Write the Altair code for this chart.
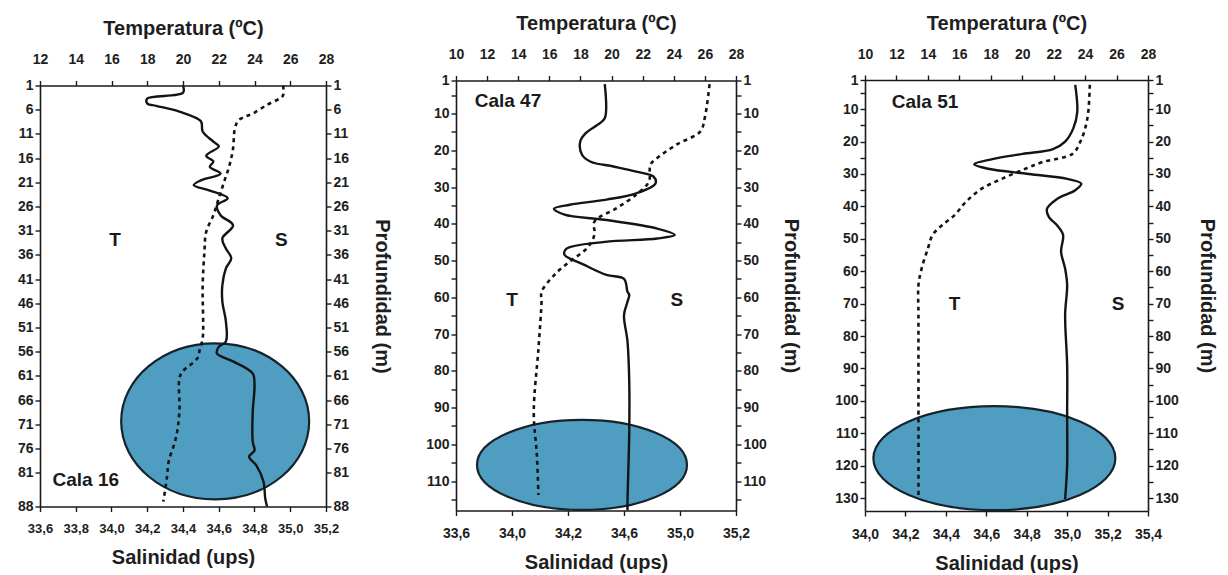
import json
import altair as alt
import pandas as pd

FONT = "Liberation Sans"

# ---------------- Cala 16 ----------------
c16_sal_depth = [1, 2.5, 3.7, 4.7, 5.2, 6.4, 8.4, 10.5, 12.6, 13.6, 15.5, 16.7, 17.8, 19.2, 20.6, 21.6,
                 22.7, 24.3, 25.8, 27.8, 29.9, 32.6, 34.7, 36.7, 38.8, 42.3, 45.6, 49.8, 53.9, 55, 56.4,
                 58, 60.5, 63, 68.4, 74.6, 76.4, 77.7, 79.5, 82.8, 86.3, 88]
c16_sal = [34.40, 34.40, 34.20, 34.20, 34.25, 34.38, 34.50, 34.51, 34.57, 34.60, 34.53, 34.57, 34.55,
           34.61, 34.50, 34.46, 34.55, 34.65, 34.59, 34.61, 34.68, 34.62, 34.64, 34.67, 34.64, 34.62,
           34.62, 34.64, 34.64, 34.60, 34.59, 34.68, 34.79, 34.80, 34.79, 34.79, 34.80, 34.77, 34.81,
           34.85, 34.86, 34.87]
c16_temp_depth = [1, 3, 3.7, 5, 6.8, 7.4, 8.2, 9.9, 14, 17.5, 20.9, 24.3, 27.8, 31.2, 35.3, 42.3, 53.3,
                  55.3, 57.4, 60, 61.5, 68.4, 73.9, 78.7, 82, 87]
c16_temp = [25.6, 25.6, 25.4, 24.7, 23.9, 23.5, 23.1, 22.9, 22.8, 22.6, 22.3, 22.0, 21.7, 21.3, 21.2,
            21.1, 21.1, 20.95, 20.8, 20.0, 19.8, 19.8, 19.6, 19.2, 19.1, 18.9]

# ---------------- Cala 47 ----------------
c47_sal_depth = [2, 11.3, 13, 15.4, 17.6, 21.2, 23.1, 24.4, 25.8, 27.2, 29, 31.7, 33.4, 34.8, 35.9,
                 37.5, 38.9, 41.3, 43, 44, 44.9, 46.8, 48.4, 51.1, 53.9, 55, 58.5, 59.3, 61.2, 64.8,
                 72, 83, 96.6, 115.7, 118]
c47_sal = [34.45, 34.45, 34.41, 34.34, 34.31, 34.32, 34.37, 34.50, 34.63, 34.73, 34.74, 34.63, 34.46,
           34.25, 34.16, 34.22, 34.45, 34.75, 34.85, 34.75, 34.45, 34.23, 34.22, 34.33, 34.46, 34.56,
           34.58, 34.59, 34.58, 34.56, 34.58, 34.59, 34.59, 34.58, 34.58]
c47_temp_depth = [2, 11, 14.9, 18.4, 22.2, 23.9, 28.5, 32, 35.8, 39.4, 43, 46.7, 50.3, 54, 58.5, 61.2,
                  74, 91.2, 103, 113.8]
c47_temp = [26.3, 26.0, 25.7, 24.2, 22.9, 22.5, 22.4, 21.6, 20.3, 18.9, 18.9, 18.4, 17.3, 16.3, 15.5,
            15.5, 15.3, 15.0, 15.2, 15.3]

# ---------------- Cala 51 ----------------
c51_sal_depth = [2.5, 10.9, 16, 20, 22.3, 23.8, 25.4, 27, 28.4, 30, 31.5, 33, 35, 37.7, 40.8, 43.3,
                 45.8, 48.8, 54, 59.2, 64.3, 73.5, 89, 104.4, 119.8, 130.3]
c51_sal = [35.04, 35.05, 35.03, 34.99, 34.93, 34.78, 34.63, 34.54, 34.61, 34.81, 35.00, 35.07, 35.04,
           34.95, 34.90, 34.91, 34.95, 34.98, 34.97, 34.99, 35.00, 34.99, 35.00, 35.00, 35.00, 34.99]
c51_temp_depth = [2.5, 10.9, 16, 20, 23.8, 26.3, 28.4, 31.5, 34.6, 38.7, 42.7, 45.8, 48.8, 53, 59.2,
                  64.3, 73.5, 99.5, 130.3]
c51_temp = [24.3, 24.2, 24.0, 23.7, 23.2, 21.3, 20.2, 18.7, 17.4, 16.4, 15.7, 14.9, 14.3, 14.0, 13.6,
            13.4, 13.4, 13.4, 13.4]

# ellipse centres (salinity, depth)
ell_sal = [34.58, 34.32, 34.64]
ell_depth = [70.4, 105.6, 117.7]

# axis ticks / labels
p1_temp_ticks = [12, 14, 16, 18, 20, 22, 24, 26, 28]
p1_sal_ticks = [33.6, 33.8, 34.0, 34.2, 34.4, 34.6, 34.8, 35.0, 35.2]
p1_depth_ticks = [1, 6, 11, 16, 21, 26, 31, 36, 41, 46, 51, 56, 61, 66, 71, 76, 81, 88]

p2_temp_ticks = [10, 12, 14, 16, 18, 20, 22, 24, 26, 28]
p2_sal_ticks = [33.6, 33.92, 34.24, 34.56, 34.88, 35.2]
p2_sal_labels = ["33,6", "34,0", "34,2", "34,6", "35,0", "35,2"]
p2_depth_ticks = [1, 5, 10, 15, 20, 25, 30, 35, 40, 45, 50, 55, 60, 65, 70, 75, 80, 85, 90, 95, 100,
                  105, 110, 115]

p3_temp_ticks = [10, 12, 14, 16, 18, 20, 22, 24, 26, 28]
p3_sal_ticks = [34.0, 34.2, 34.4, 34.6, 34.8, 35.0, 35.2, 35.4]
p3_depth_ticks = [1, 5, 10, 15, 20, 25, 30, 35, 40, 45, 50, 55, 60, 65, 70, 75, 80, 85, 90, 95, 100,
                  105, 110, 115, 120, 125, 130]

# text annotations: (label, temperature-axis position, depth)
p1_texts = [("T", 16.2, 33), ("S", 25.5, 33)]
p1_name = ("Cala 16", 12.7, 82.6)
p2_texts = [("T", 13.6, 60.7), ("S", 24.2, 60.7)]
p2_name = ("Cala 47", 11.2, 6.7)
p3_texts = [("T", 15.7, 70), ("S", 26.1, 70)]
p3_name = ("Cala 51", 11.7, 7.8)

ELL_FILL = "#4f9ec2"
LINE = "#141414"


def ellipse_path(ratio):
    k = 0.5523
    ky = ratio
    return (f"M -1 0 C -1 {-k*ky:.4f} {-k:.4f} {-ky:.4f} 0 {-ky:.4f} "
            f"C {k:.4f} {-ky:.4f} 1 {-k*ky:.4f} 1 0 "
            f"C 1 {k*ky:.4f} {k:.4f} {ky:.4f} 0 {ky:.4f} "
            f"C {-k:.4f} {ky:.4f} -1 {k*ky:.4f} -1 0 Z")


COMMA = "replace(format(datum.value, '.1f'), '.', ',')"


def panel(w, h, sal_d, sal, tmp_d, tmp, t_dom, t_ticks, s_dom, s_ticks, s_label_expr,
          y_dom, y_ticks, y_label_expr, ell_idx, ell_rx, ell_ry, texts, name, right_pad,
          s_label_size=14):
    yscale = alt.Scale(domain=y_dom, reverse=True, nice=False, zero=False)
    sscale = alt.Scale(domain=s_dom, nice=False, zero=False)
    tscale = alt.Scale(domain=t_dom, nice=False, zero=False)

    sal_df = pd.DataFrame({"depth": sal_d, "S": sal})
    tmp_df = pd.DataFrame({"depth": tmp_d, "T": tmp})
    ell_df = pd.DataFrame({"depth": [ell_depth[ell_idx]], "S": [ell_sal[ell_idx]]})
    txt_df = pd.DataFrame({"label": [t[0] for t in texts], "T": [t[1] for t in texts],
                           "depth": [t[2] for t in texts]})
    name_df = pd.DataFrame({"label": [name[0]], "T": [name[1]], "depth": [name[2]]})

    ell = alt.Chart(ell_df).mark_point(
        shape=ellipse_path(ell_ry / ell_rx), size=(2 * ell_rx) ** 2, filled=True,
        fill=ELL_FILL, fillOpacity=1, opacity=1, stroke="#15232b", strokeWidth=2.2
    ).encode(
        x=alt.X("S:Q", scale=sscale, axis=None),
        y=alt.Y("depth:Q", scale=yscale, axis=None),
    )

    sal_line = alt.Chart(sal_df).mark_line(
        color=LINE, strokeWidth=2.4, interpolate="catmull-rom"
    ).encode(
        x=alt.X("S:Q", scale=sscale,
                axis=alt.Axis(orient="bottom", title="Salinidad (ups)", values=s_ticks,
                              labelExpr=s_label_expr, labelPadding=11, titlePadding=12,
                              labelFontSize=s_label_size)),
        y=alt.Y("depth:Q", scale=yscale,
                axis=alt.Axis(orient="left", title=None, values=y_ticks, labelExpr=y_label_expr)),
        order="depth:Q",
    )

    tmp_line = alt.Chart(tmp_df).mark_line(
        color=LINE, strokeWidth=2.6, strokeDash=[4, 4], interpolate="catmull-rom"
    ).encode(
        x=alt.X("T:Q", scale=tscale,
                axis=alt.Axis(orient="top", title="Temperatura (ºC)", values=t_ticks,
                              labelPadding=14, titlePadding=14)),
        y=alt.Y("depth:Q", scale=yscale,
                axis=alt.Axis(orient="right", title="Profundidad (m)", values=y_ticks,
                              labelExpr=y_label_expr, titlePadding=right_pad)),
        order="depth:Q",
    )

    txt = alt.Chart(txt_df).mark_text(
        font=FONT, fontWeight="bold", fontSize=19, color="#1a1a1a"
    ).encode(
        x=alt.X("T:Q", scale=tscale, axis=None),
        y=alt.Y("depth:Q", scale=yscale, axis=None),
        text="label:N",
    )

    nm = alt.Chart(name_df).mark_text(
        font=FONT, fontWeight="bold", fontSize=19, color="#1a1a1a", align="left"
    ).encode(
        x=alt.X("T:Q", scale=tscale, axis=None),
        y=alt.Y("depth:Q", scale=yscale, axis=None),
        text="label:N",
    )

    return alt.layer(ell, sal_line, tmp_line, txt, nm).resolve_scale(
        x="independent"
    ).resolve_axis(x="independent", y="independent").properties(width=w, height=h)


DEPTH_MAJOR = "datum.value == 1 || datum.value % 10 == 0 ? datum.label : ''"
P2_SAL = json.dumps(p2_sal_labels).replace('"', "'") + "[round((datum.value - 33.6) / 0.32)]"

p1 = panel(286, 421, c16_sal_depth, c16_sal, c16_temp_depth, c16_temp,
           [12, 28], p1_temp_ticks, [33.6, 35.2], p1_sal_ticks, COMMA,
           [1, 88], p1_depth_ticks, "datum.label", 0, 94, 78, p1_texts, p1_name, 23,
           s_label_size=13)
p2 = panel(280, 430, c47_sal_depth, c47_sal, c47_temp_depth, c47_temp,
           [10, 28], p2_temp_ticks, [33.6, 35.2], p2_sal_ticks, P2_SAL,
           [1, 118], p2_depth_ticks, DEPTH_MAJOR, 1, 105, 45, p2_texts, p2_name, 14)
p3 = panel(283, 431, c51_sal_depth, c51_sal, c51_temp_depth, c51_temp,
           [10, 28], p3_temp_ticks, [34.0, 35.4], p3_sal_ticks, COMMA,
           [1, 134], p3_depth_ticks, DEPTH_MAJOR, 2, 121, 52, p3_texts, p3_name, 18)

chart = alt.hconcat(p1, p2, p3, spacing=33, center=True).properties(
    padding={"left": 17, "top": 13, "right": 0, "bottom": 0},
    background="white",
).configure_view(stroke=None).configure_axis(
    labelFont=FONT, titleFont=FONT, labelFontWeight="bold", titleFontWeight="bold",
    labelFontSize=14, titleFontSize=20, labelColor="#1e1e1e", titleColor="#1e1e1e",
    domainColor="#1a1a1a", tickColor="#1a1a1a", domainWidth=1.6, tickWidth=1.4, tickSize=5,
    grid=False, labelFlush=False, labelOverlap=False,
)

chart.save("out.html", embed_options={"renderer": "svg", "actions": False})
